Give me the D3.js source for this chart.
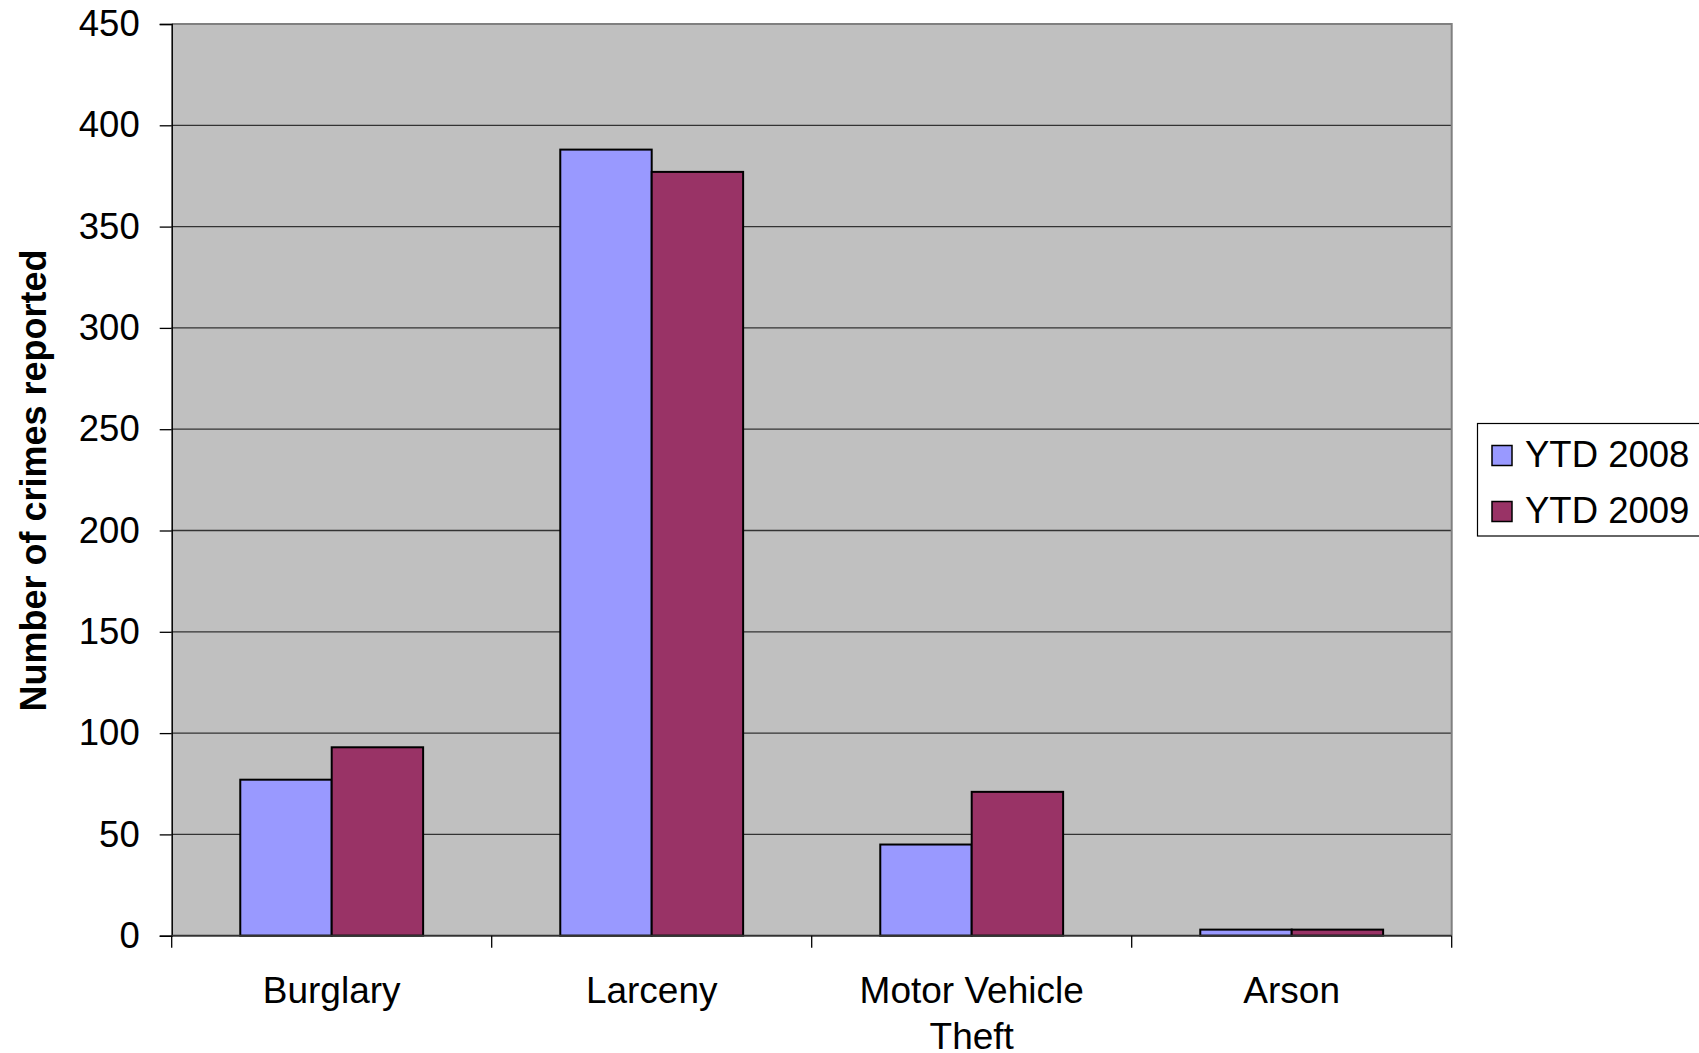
<!DOCTYPE html>
<html>
<head>
<meta charset="utf-8">
<script src="https://cdn.jsdelivr.net/npm/d3@7"></script>
<style>
  html, body { margin: 0; padding: 0; background: #ffffff; }
  svg { display: block; }
  text { font-family: "Liberation Sans", Arial, sans-serif; }
</style>
</head>
<body>
<svg id="chart" width="1699" height="1053"></svg>
<script>
const categories = ["Burglary", "Larceny", "Motor Vehicle Theft", "Arson"];
const categoryLines = [["Burglary"], ["Larceny"], ["Motor Vehicle", "Theft"], ["Arson"]];
const seriesNames = ["YTD 2008", "YTD 2009"];
const ytd2008 = [77, 388, 45, 3];
const ytd2009 = [93, 377, 71, 3];
const yTicks = [0, 50, 100, 150, 200, 250, 300, 350, 400, 450];
const seriesColors = ["#9999FF", "#993366"];

const seriesValues = [ytd2008, ytd2009];
const svg = d3.select("#chart");

const plot = { left: 171.7, right: 1451.7, top: 24, bottom: 935.7 };

const y = d3.scaleLinear().domain([0, 450]).range([plot.bottom, plot.top]);
const x0 = d3.scaleBand().domain(categories).range([plot.left, plot.right])
  .paddingInner(1.5 / 3.5).paddingOuter(0.75 / 3.5);
const x1 = d3.scaleBand().domain(seriesNames).range([0, x0.bandwidth()]);
const xEdge = d3.scaleLinear().domain([0, categories.length]).range([plot.left, plot.right]);

// plot background
svg.append("rect")
  .attr("x", plot.left).attr("y", plot.top)
  .attr("width", plot.right - plot.left).attr("height", plot.bottom - plot.top)
  .attr("fill", "#C0C0C0");

// gridlines
svg.append("g").selectAll("line")
  .data(yTicks.filter(d => d > 0 && d < 450))
  .join("line")
  .attr("x1", plot.left).attr("x2", plot.right)
  .attr("y1", d => y(d)).attr("y2", d => y(d))
  .attr("stroke", "#333333").attr("stroke-width", 1.3);

// top and right border (gray)
svg.append("path")
  .attr("d", `M${plot.left},${plot.top}H${plot.right}V${plot.bottom}`)
  .attr("fill", "none").attr("stroke", "#808080").attr("stroke-width", 2);

// bars
const groups = svg.append("g").selectAll("g")
  .data(categories)
  .join("g")
  .attr("transform", d => `translate(${x0(d)},0)`);

groups.selectAll("rect")
  .data((d, i) => seriesNames.map((s, j) => ({ s, v: seriesValues[j][i], j })))
  .join("rect")
  .attr("x", d => x1(d.s))
  .attr("y", d => y(d.v))
  .attr("width", x1.bandwidth())
  .attr("height", d => y(0) - y(d.v))
  .attr("fill", d => seriesColors[d.j])
  .attr("stroke", "#000")
  .attr("stroke-width", 2);

// y axis
const yAxis = d3.axisLeft(y).tickValues(yTicks).tickSize(12).tickPadding(20);
const gy = svg.append("g").attr("transform", `translate(${plot.left},0)`).call(yAxis);
gy.select(".domain").attr("stroke", "#000").attr("stroke-width", 1.5);
gy.selectAll(".tick line").attr("stroke", "#000").attr("stroke-width", 1.3);
gy.selectAll(".tick text")
  .attr("font-size", 36.5).attr("fill", "#000")
  .attr("font-family", "Liberation Sans, Arial, sans-serif");

// x axis line and ticks at category edges
const gx = svg.append("g");
gx.append("line")
  .attr("x1", plot.left).attr("x2", plot.right)
  .attr("y1", plot.bottom).attr("y2", plot.bottom)
  .attr("stroke", "#333").attr("stroke-width", 2);
gx.selectAll("line.tk")
  .data(d3.range(categories.length + 1))
  .join("line").attr("class", "tk")
  .attr("x1", d => xEdge(d)).attr("x2", d => xEdge(d))
  .attr("y1", plot.bottom).attr("y2", plot.bottom + 12)
  .attr("stroke", "#000").attr("stroke-width", 1.3);

// category labels
const labels = svg.append("g").selectAll("text")
  .data(categories)
  .join("text")
  .attr("text-anchor", "middle")
  .attr("font-size", 37)
  .attr("fill", "#000")
  .attr("x", d => x0(d) + x0.bandwidth() / 2)
  .attr("y", 1003);
labels.each(function(d, i) {
  const t = d3.select(this);
  categoryLines[i].forEach((ln, k) => {
    t.append("tspan")
      .attr("x", x0(d) + x0.bandwidth() / 2)
      .attr("dy", k === 0 ? 0 : 46)
      .text(ln);
  });
});

// y axis title
svg.append("text")
  .attr("transform", `translate(46,${(244 + 717) / 2}) rotate(-90)`)
  .attr("text-anchor", "middle")
  .attr("font-size", 36)
  .attr("font-weight", "bold")
  .attr("fill", "#000")
  .text("Number of crimes reported");

// legend
const lg = svg.append("g");
lg.append("rect")
  .attr("x", 1477.5).attr("y", 423.5)
  .attr("width", 260).attr("height", 112.5)
  .attr("fill", "#fff").attr("stroke", "#000").attr("stroke-width", 1.2);
const legendY = d3.scalePoint().domain(seriesNames).range([455.5, 511.5]);
seriesNames.forEach((s, j) => {
  lg.append("rect")
    .attr("x", 1492).attr("y", legendY(s) - 10)
    .attr("width", 20).attr("height", 20)
    .attr("fill", seriesColors[j]).attr("stroke", "#000").attr("stroke-width", 1.5);
  lg.append("text")
    .attr("x", 1525).attr("y", legendY(s) + 11)
    .attr("font-size", 36.5).attr("fill", "#000")
    .text(s);
});
</script>
</body>
</html>
